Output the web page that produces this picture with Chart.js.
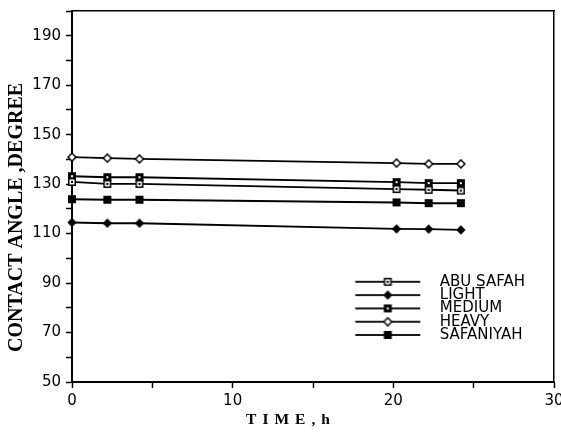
<!DOCTYPE html>
<html>
<head>
<meta charset="utf-8">
<script src="https://cdn.jsdelivr.net/npm/chart.js@4/dist/chart.umd.min.js"></script>
<style>
  html, body { margin: 0; padding: 0; background: #fff; }
  #wrap { width: 561px; height: 444px; position: relative; background: #fff; }
</style>
</head>
<body>
<div id="wrap"><canvas id="c"></canvas></div>
<script>
// ---- data ----
const times      = [0, 2.2, 4.2, 20.2, 22.2, 24.2];
const abuSafah   = [130.9, 130.1, 130.1, 128.0, 127.7, 127.4];
const light      = [114.5, 114.2, 114.2, 111.9, 111.8, 111.5];
const medium     = [133.2, 132.8, 132.8, 130.8, 130.4, 130.4];
const heavy      = [140.9, 140.5, 140.2, 138.5, 138.2, 138.2];
const safaniyah  = [123.9, 123.7, 123.7, 122.6, 122.3, 122.3];
const seriesNames = ['ABU SAFAH', 'LIGHT', 'MEDIUM', 'HEAVY', 'SAFANIYAH'];
const xTickLabels = [0, 10, 20, 30];
const yTickLabels = [50, 70, 90, 110, 130, 150, 170, 190];

// ---- marker glyphs ----
function marker(kind) {
  const c = document.createElement('canvas');
  c.width = 10; c.height = 10;
  const g = c.getContext('2d');
  g.fillStyle = '#000'; g.strokeStyle = '#000'; g.lineWidth = 1.5;
  const diamond = (inset) => {
    g.beginPath();
    g.moveTo(5, inset); g.lineTo(10 - inset, 5); g.lineTo(5, 10 - inset); g.lineTo(inset, 5);
    g.closePath();
  };
  if (kind === 'sqDot') {
    g.fillStyle = '#fff'; g.fillRect(1, 1, 8, 8);
    g.strokeRect(1.75, 1.75, 6.5, 6.5);
    g.fillStyle = '#000'; g.fillRect(4, 4, 2, 2);
  } else if (kind === 'diamond') {
    diamond(0.3); g.fill();
  } else if (kind === 'sqHole') {
    g.fillRect(1, 1, 8, 8);
    g.fillStyle = '#fff'; g.fillRect(4, 4, 2, 2);
  } else if (kind === 'diamondOpen') {
    diamond(1); g.fillStyle = '#fff'; g.fill(); g.stroke();
  } else {
    g.fillRect(1, 1, 8, 8);
  }
  return c;
}
function legendSymbol(m) {
  const c = document.createElement('canvas');
  c.width = 79; c.height = 10;
  const g = c.getContext('2d');
  g.fillStyle = '#000';
  g.fillRect(2, 4.1, 65, 1.8);
  g.drawImage(m, 29.5, 0);
  return c;
}
const markers = [marker('sqDot'), marker('diamond'), marker('sqHole'), marker('diamondOpen'), marker('sq')];
const legendSyms = markers.map(legendSymbol);
const seriesValues = [abuSafah, light, medium, heavy, safaniyah];

const datasets = seriesNames.map((name, i) => ({
  label: name,
  data: times.map((t, j) => ({ x: t, y: seriesValues[i][j] })),
  borderColor: '#000',
  borderWidth: 1.9,
  pointStyle: markers[i],
  pointRadius: 5,
  tension: 0,
  fill: false,
  clip: false
}));

function shiftTitle(scale, dx, dy, spacing) {
  if (scale.__shifted) return;
  scale.__shifted = true;
  const orig = scale.drawTitle;
  scale.drawTitle = function () {
    const ctx = this.ctx;
    ctx.save();
    ctx.translate(dx, dy);
    if (spacing) ctx.letterSpacing = spacing;
    orig.call(this);
    ctx.restore();
  };
}

const placePlugin = {
  id: 'place',
  afterLayout(chart) {
    const L = chart.legend;
    if (L) {
      const w = L.width, h = L.height;
      L.left = 355; L.top = 276; L.right = L.left + w + 20; L.bottom = L.top + h + 50;
      if (!L.__noclip) {
        L.__noclip = true;
        L.draw = function () { if (this.options.display) this._draw(); };
      }
    }
    shiftTitle(chart.scales.x, -22, 0, '6px');
    shiftTitle(chart.scales.y, 0, 21, null);
  }
};

const tickFont = { family: 'DejaVu Sans', size: 15 };

new Chart(document.getElementById('c'), {
  type: 'line',
  data: { datasets },
  plugins: [placePlugin],
  options: {
    responsive: true,
    maintainAspectRatio: false,
    animation: false,
    events: [],
    layout: { padding: { top: 11, right: 7, bottom: 0, left: 0 } },
    plugins: {
      tooltip: { enabled: false },
      legend: {
        position: 'chartArea',
        align: 'start',
        labels: {
          usePointStyle: true,
          pointStyleWidth: 79,
          padding: -1.7,
          color: '#000',
          font: { family: 'DejaVu Sans', size: 15 },
          generateLabels: (chart) => chart.data.datasets.map((ds, i) => ({
            text: ds.label,
            pointStyle: legendSyms[i],
            fillStyle: '#000',
            strokeStyle: '#000',
            lineWidth: 0,
            hidden: false,
            datasetIndex: i,
            fontColor: '#000'
          }))
        }
      }
    },
    scales: {
      x: {
        type: 'linear', position: 'bottom', min: 0, max: 30,
        ticks: {
          stepSize: 5, autoSkip: false, maxRotation: 0, color: '#000', font: tickFont, padding: 4,
          callback: (v) => xTickLabels.includes(v) ? String(v) : ''
        },
        grid: { display: true, drawOnChartArea: false, drawTicks: true, tickLength: 6, tickWidth: 1.5, tickColor: '#000', color: '#000' },
        border: { display: true, color: '#000', width: 2 },
        title: { display: true, text: 'TIME,h', color: '#000',
                 font: { family: 'Liberation Serif', size: 15.5, weight: 'bold' },
                 padding: { top: 0, bottom: 15 } },
        afterFit: (s) => { s.height = 62; s.paddingLeft = 0; s.paddingRight = 0; }
      },
      y: {
        type: 'linear', position: 'left', min: 50, max: 200,
        ticks: {
          stepSize: 10, autoSkip: false, color: '#000', font: tickFont, padding: 5,
          callback: (v) => yTickLabels.includes(v) ? String(v) : ''
        },
        grid: { display: true, drawOnChartArea: false, drawTicks: true, tickLength: 6, tickWidth: 1.5, tickColor: '#000', color: '#000' },
        border: { display: true, color: '#000', width: 2 },
        title: { display: true, text: 'CONTACT ANGLE ,DEGREE', color: '#000',
                 font: { family: 'Liberation Serif', size: 20, weight: 'bold' },
                 padding: { top: 5, bottom: 0 } },
        afterFit: (s) => { s.width = 72; s.paddingTop = 0; s.paddingBottom = 0; }
      },
      x2: {
        type: 'linear', position: 'top', min: 0, max: 30,
        ticks: { display: false },
        grid: { display: true, drawOnChartArea: false, drawTicks: false },
        border: { display: true, color: '#000', width: 1.5 },
        afterFit: (s) => { s.height = 0; s.paddingLeft = 0; s.paddingRight = 0; }
      },
      y2: {
        type: 'linear', position: 'right', min: 50, max: 200,
        ticks: { display: false },
        grid: { display: true, drawOnChartArea: false, drawTicks: false },
        border: { display: true, color: '#000', width: 1.5 },
        afterFit: (s) => { s.width = 0; s.paddingTop = 0; s.paddingBottom = 0; }
      }
    }
  }
});
</script>
</body>
</html>
